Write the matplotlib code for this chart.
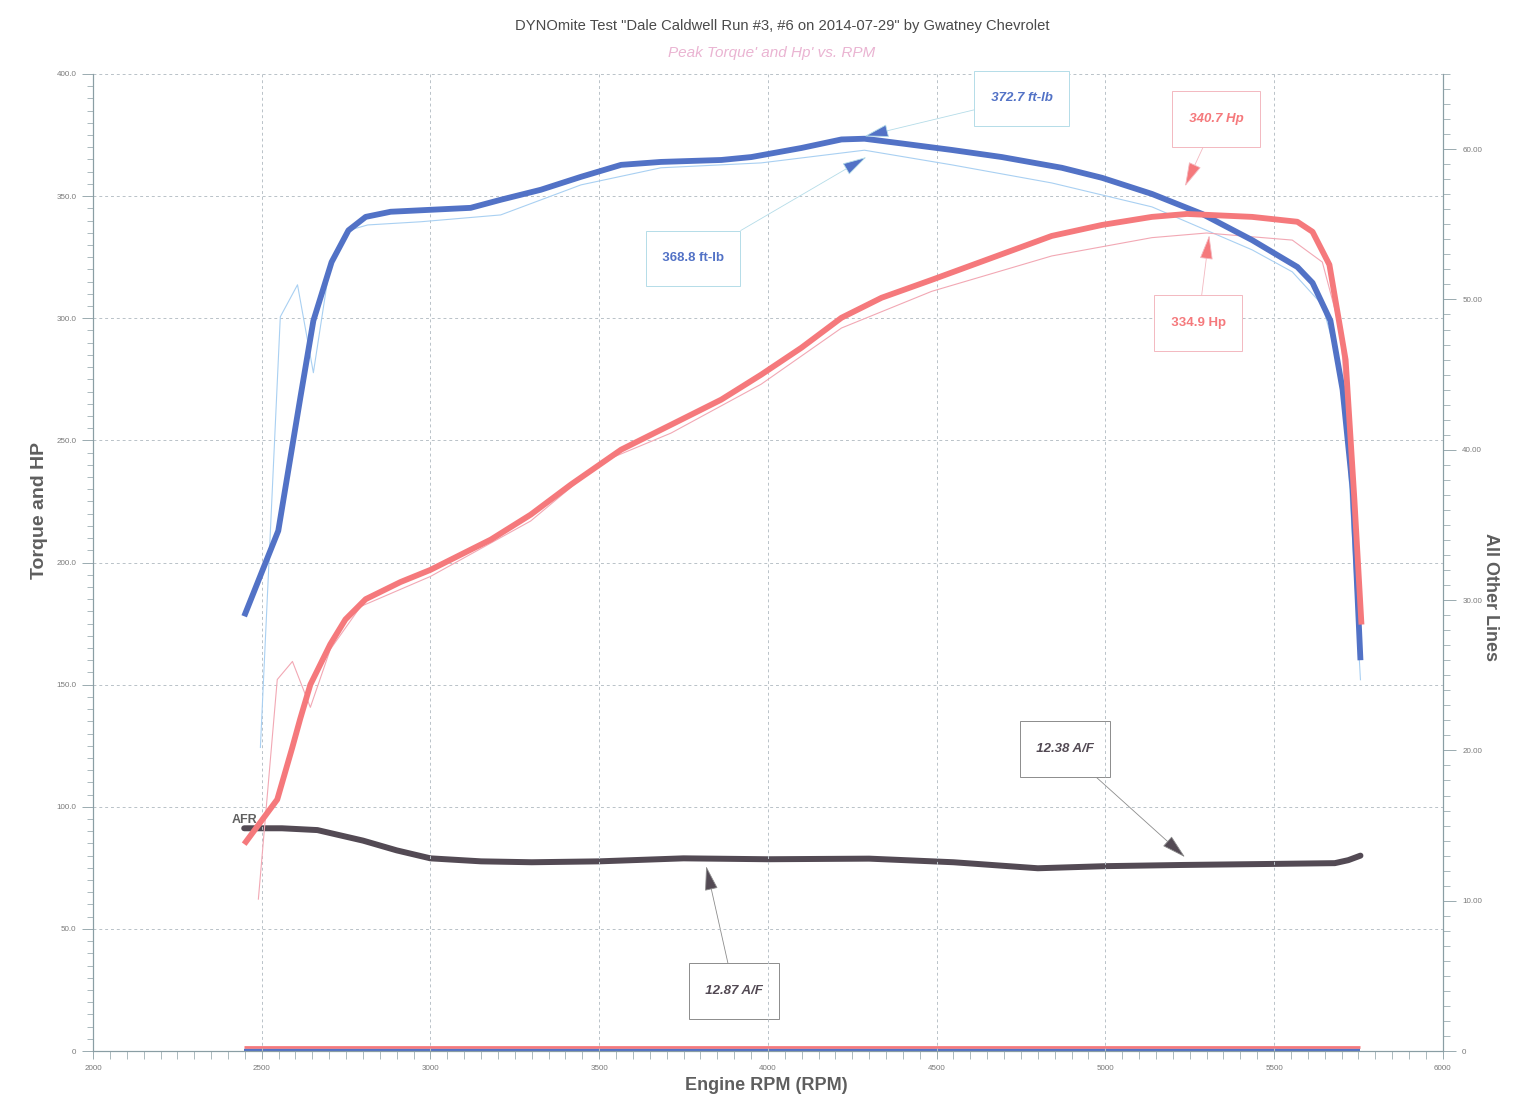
import matplotlib
matplotlib.use('Agg')
import matplotlib.pyplot as plt
from matplotlib.ticker import MultipleLocator, FuncFormatter

# ---------------- data ----------------
rpm_tq = [2448, 2549, 2585, 2615, 2653, 2707, 2757, 2808, 2882, 3000, 3119, 3208, 3327, 3446,
          3565, 3683, 3862, 3951, 4099, 4218, 4286, 4400, 4545, 4693, 4871, 4990, 5138,
          5287, 5435, 5569, 5614, 5667, 5703, 5733, 5756]
torque = [178, 213, 243, 268, 299, 323, 336, 341.5, 343.6, 344.4, 345.2, 348.5, 352.6, 357.9,
          362.8, 364, 364.8, 366, 369.7, 373.2, 373.5, 371.5, 368.9, 366, 361.6, 357.5, 350.9,
          342.7, 332, 321, 314.5, 299, 270.8, 229.9, 160]

rpm_hp = [2448, 2546, 2590, 2614, 2644, 2703, 2748, 2808, 2911, 3000, 3179, 3297, 3416, 3565,
          3713, 3862, 3980, 4099, 4218, 4337, 4485, 4663, 4841, 4990, 5138, 5242, 5435, 5569,
          5614, 5664, 5712, 5738, 5759]
hp = [84.7, 103, 124, 136, 150, 166.5, 176.7, 185, 192, 197, 209.4, 219.6, 231.9, 246.2,
      256.4, 266.7, 276.9, 287.9, 300.2, 308.4, 315.7, 324.7, 333.7, 338.2, 341.5, 342.7, 341.5,
      339.5, 335.4, 321.9, 283, 225.8, 174.6]

rpm_tq2 = [2496, 2555, 2606, 2653, 2703, 2763, 2814, 2971, 3208, 3446, 3683, 3980, 4286, 4545,
           4841, 5138, 5435, 5554, 5643, 5688, 5718, 5756]
torque2 = [124.3, 300.6, 313.7, 277.7, 322.7, 336.2, 338.2, 339.5, 342.3, 354.6, 361.6, 363.6,
           368.8, 362.8, 355.4, 345.6, 328, 319, 305.5, 283, 246, 152]

rpm_hp2 = [2490, 2546, 2591, 2644, 2703, 2793, 3000, 3297, 3505, 3713, 3980, 4218, 4485, 4841,
           5138, 5300, 5554, 5643, 5697, 5733, 5753]
hp2 = [62.2, 152.1, 159.5, 140.7, 164.4, 182, 194.3, 217, 241, 253, 273, 296, 311, 325.5,
       333, 334.9, 332, 323, 295, 225.8, 160.3]

rpm_afr = [2448, 2560, 2665, 2800, 2900, 3000, 3150, 3300, 3500, 3750, 4000, 4300, 4550, 4800,
           5000, 5230, 5500, 5680, 5720, 5756]
afr = [14.82, 14.82, 14.7, 14.0, 13.35, 12.82, 12.62, 12.56, 12.62, 12.82, 12.76, 12.8, 12.56,
       12.16, 12.3, 12.38, 12.45, 12.5, 12.7, 13.0]

rpm_base = [2448, 5756]
base_red = [0.25, 0.25]
base_blue = [0.08, 0.08]

# ---------------- style ----------------
FONT = ['Liberation Sans', 'DejaVu Sans']
plt.rcParams['font.family'] = FONT

C_TQ = '#5272c6'
C_HP = '#f5797c'
C_TQ2 = '#a9d0f2'
C_HP2 = '#f2a8b4'
C_AFR = '#534a54'
C_AX = '#8a9ea4'
C_GRID = '#b9c2c8'

fig = plt.figure(figsize=(15.3, 11.16), dpi=100)
ax = fig.add_axes([0.0608, 0.0582, 0.8822, 0.8755])
ax2 = ax.twinx()
ax.set_zorder(ax2.get_zorder() + 1)
ax.patch.set_visible(False)

ax.set_xlim(2000, 6000)
ax.set_ylim(0, 400)
ax2.set_ylim(0, 65)

# grid
ax.grid(True, which='major', color=C_GRID, linestyle=(0, (3, 3)), linewidth=0.7)
ax.set_axisbelow(True)

# lines
ax2.plot(rpm_base, base_red, color=C_HP, lw=2.0, solid_capstyle='butt')
ax2.plot(rpm_base, base_blue, color=C_TQ, lw=1.6, solid_capstyle='butt')
ax2.plot(rpm_afr, afr, color=C_AFR, lw=4.3, solid_capstyle='round', solid_joinstyle='round')

ax.plot(rpm_tq2, torque2, color=C_TQ2, lw=0.8)
ax.plot(rpm_hp2, hp2, color=C_HP2, lw=0.8)
ax.plot(rpm_tq, torque, color=C_TQ, lw=4.2, solid_capstyle='butt', solid_joinstyle='round')
ax.plot(rpm_hp, hp, color=C_HP, lw=4.2, solid_capstyle='butt', solid_joinstyle='round')

# ticks
ax.xaxis.set_major_locator(MultipleLocator(500))
ax.xaxis.set_minor_locator(MultipleLocator(50))
ax.yaxis.set_major_locator(MultipleLocator(50))
ax.yaxis.set_minor_locator(MultipleLocator(5))
ax2.yaxis.set_major_locator(MultipleLocator(10))
ax2.yaxis.set_minor_locator(MultipleLocator(1))
ax.xaxis.set_major_formatter(FuncFormatter(lambda v, p: f'{int(v)}'))
ax.yaxis.set_major_formatter(FuncFormatter(lambda v, p: '0' if v == 0 else f'{v:.1f}'))
ax2.yaxis.set_major_formatter(FuncFormatter(lambda v, p: '0' if v == 0 else f'{v:.2f}'))

for a in (ax, ax2):
    for s in a.spines.values():
        s.set_color(C_AX)
        s.set_linewidth(0.8)
    a.spines['top'].set_visible(False)
ax.tick_params(axis='both', which='major', direction='out', length=8, width=0.6,
               color=C_AX, labelsize=5.8, labelcolor='#7a7a7a', pad=4)
ax.tick_params(axis='both', which='minor', direction='out', length=4, width=0.5, color=C_AX)
ax.tick_params(axis='x', which='both', length=6)
ax2.tick_params(axis='y', which='major', direction='out', length=9, width=0.6,
                color=C_AX, labelsize=5.8, labelcolor='#7a7a7a', pad=5)
ax2.tick_params(axis='y', which='minor', direction='out', length=5, width=0.5, color=C_AX)

# annotations
def note(axis, text, xy, xytext, color, edge, italic=True):
    axis.annotate('\n  ' + text + '  \n', xy=xy, xytext=xytext, ha='center', va='center',
                  fontsize=9.5, fontweight='bold', color=color, linespacing=1.05,
                  fontstyle='italic' if italic else 'normal',
                  bbox=dict(boxstyle='square,pad=0.7', fc='white', ec=edge, lw=0.7),
                  arrowprops=dict(arrowstyle='-|>,head_length=1.3,head_width=0.35',
                                  color=color, ec=edge, lw=0.6, mutation_scale=12,
                                  shrinkA=0, shrinkB=0),
                  zorder=10)

note(ax, '372.7 ft-lb', (4286, 374.5), (4752, 390), C_TQ, '#b4dce8')
note(ax, '368.8 ft-lb', (4292, 366), (3778, 324.5), C_TQ, '#b4dce8', italic=False)
note(ax, '340.7 Hp', (5236, 354), (5328, 381.5), C_HP, '#f3b8c0')
note(ax, '334.9 Hp', (5308, 334), (5275, 298), C_HP, '#f3b8c0', italic=False)
note(ax2, '12.38 A/F', (5236, 12.9), (4880, 20.1), C_AFR, '#8c8c8c')
note(ax2, '12.87 A/F', (3817, 12.3), (3900, 4.0), C_AFR, '#8c8c8c')

ax2.text(2410, 15.0, 'AFR', fontsize=9, fontweight='bold', color='#606060',
         ha='left', va='bottom', zorder=11)

# titles and axis labels
fig.text(0.511, 0.9767, 'DYNOmite Test "Dale Caldwell Run #3, #6 on 2014-07-29" by Gwatney Chevrolet',
         ha='center', va='center', fontsize=10.6, color='#4a4a4a')
fig.text(0.5046, 0.9525, "Peak Torque' and Hp' vs. RPM", ha='center', va='center',
         fontsize=11, color='#eab4d2', fontstyle='italic')
fig.text(0.026, 0.543, 'Torque and HP', rotation=90, ha='center', va='center',
         fontsize=14, fontweight='bold', color='#5e5e5e')
fig.text(0.974, 0.465, 'All Other Lines', rotation=270, ha='center', va='center',
         fontsize=13, fontweight='bold', color='#5e5e5e')
fig.text(0.5007, 0.0269, 'Engine RPM (RPM)', ha='center', va='center',
         fontsize=13, fontweight='bold', color='#5e5e5e')

fig.savefig('out.png', dpi=100, facecolor='white')
